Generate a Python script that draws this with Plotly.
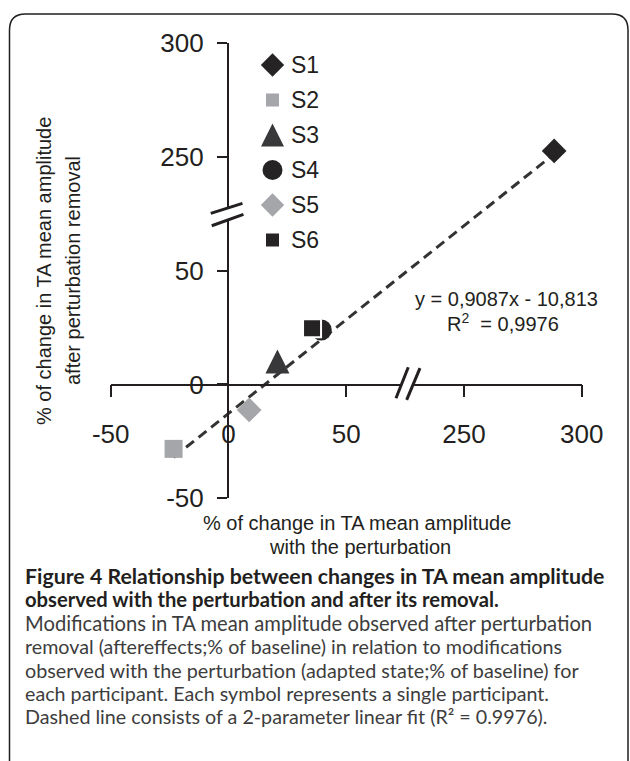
import plotly.graph_objects as go

# ---------------- data ----------------
participants = ["S1", "S2", "S3", "S4", "S5", "S6"]
change_with_perturbation = [288.3, -23.3, 20.8, 39.4, 8.8, 35.5]   # x, % of baseline
change_after_removal = [252.5, -28.3, 10.0, 23.9, -11.2, 24.6]     # y, % of baseline
fit_slope = 0.9087
fit_intercept = -10.813
fit_r2 = 0.9976
tick_values = [-50, 0, 50, 250, 300]
tick_labels = ["-50", "0", "50", "250", "300"]

# ---------------- helpers ----------------
W, H = 630, 761
FONT = "Liberation Sans, Arial, sans-serif"
CAP_FONT = "Lato, Open Sans, sans-serif"
INK = "#231f20"


def brk(v):
    """broken axis: the 50..250 gap is squeezed to one tick interval"""
    return v - 150 if v > 150 else v


symbols = {"S1": "diamond", "S2": "square", "S3": "arrow-down", "S4": "circle",
           "S5": "diamond", "S6": "square"}
colors = {"S1": "#262324", "S2": "#a5a6a9", "S3": "#38383a", "S4": "#262324",
          "S5": "#a5a6a9", "S6": "#262324"}
plot_sizes = {"S1": 19, "S2": 18, "S3": 24, "S4": 21, "S5": 19, "S6": 18}
legend_sizes = {"S1": 18, "S2": 13, "S3": 23, "S4": 20, "S5": 18, "S6": 13}


def marker_style(name, size, outline=0):
    m = dict(symbol=symbols[name], size=size, color=colors[name],
             line=dict(width=outline, color="white"))
    if symbols[name] == "arrow-down":
        m.update(angle=180, standoff=size / 2)
    return m


fig = go.Figure()

# fitted line (drawn in broken-axis display coordinates)
x_fit = [min(change_with_perturbation), max(change_with_perturbation)]
y_fit = [fit_slope * v + fit_intercept for v in x_fit]
fig.add_trace(go.Scatter(
    x=[brk(v) for v in x_fit], y=[brk(v) for v in y_fit], mode="lines",
    line=dict(color="#333333", width=3, dash="10px,6px"),
    xaxis="x", yaxis="y", showlegend=False, hoverinfo="skip"))

# participants
for name, xv, yv in zip(participants, change_with_perturbation, change_after_removal):
    fig.add_trace(go.Scatter(
        x=[brk(xv)], y=[brk(yv)], mode="markers", name=name,
        marker=marker_style(name, plot_sizes[name], 2 if name == "S6" else 0),
        xaxis="x", yaxis="y", showlegend=False, cliponaxis=False))

# custom legend (pixel subplot)
leg_x, leg_y0, leg_dy = 272.5, 65, 35
for i, name in enumerate(participants):
    fig.add_trace(go.Scatter(
        x=[leg_x], y=[leg_y0 + i * leg_dy], mode="markers",
        marker=marker_style(name, legend_sizes[name]),
        xaxis="x2", yaxis="y2", showlegend=False, hoverinfo="skip", cliponaxis=False))

annotations = []
for i, name in enumerate(participants):
    annotations.append(dict(x=289, y=leg_y0 + i * leg_dy, xref="x2", yref="y2",
                            text=name, showarrow=False, xanchor="left", yanchor="middle",
                            font=dict(family=FONT, size=23, color=INK)))

# axis titles and fit equation
annotations += [
    dict(x=357, y=523, text="% of change in TA mean amplitude"),
    dict(x=360, y=547, text="with the perturbation"),
    dict(x=44, y=271, text="% of change in TA mean amplitude", textangle=-90),
    dict(x=73, y=271, text="after perturbation removal", textangle=-90),
    dict(x=506, y=299, text=f"y = {fit_slope:.4f}x - {abs(fit_intercept):.3f}".replace(".", ",")),
    dict(x=503, y=322, text="R<sup>2</sup>\u00a0 = " + f"{fit_r2:.4f}".replace(".", ",")),
]
for a in annotations[-6:]:
    a.update(xref="x2", yref="y2", showarrow=False, xanchor="center", yanchor="middle",
             font=dict(family=FONT, size=20, color=INK))

# caption
caption = [
    ("<b>Figure 4 Relationship between changes in TA mean amplitude</b>", INK, 21.3),
    ("<b>observed with the perturbation and after its removal.</b>", INK, 20.2),
    ("Modifications in TA mean amplitude observed after perturbation", "#3d3d3d", 20.2),
    ("removal (aftereffects;% of baseline) in relation to modifications", "#3d3d3d", 19.7),
    ("observed with the perturbation (adapted state;% of baseline) for", "#3d3d3d", 19.8),
    ("each participant. Each symbol represents a single participant.", "#3d3d3d", 19.7),
    ("Dashed line consists of a 2-parameter linear fit (R\u00b2 = 0.9976).", "#3d3d3d", 19.7),
]
for i, (txt, col, sz) in enumerate(caption):
    annotations.append(dict(x=23, y=576 + i * 23.4, xref="x2", yref="y2", text=txt,
                            showarrow=False, xanchor="left", yanchor="middle",
                            font=dict(family=CAP_FONT, size=sz, color=col)))

# shapes: frame and axis break marks
shapes = [
    dict(type="path", xref="x2", yref="y2",
         path="M 9.5 775 L 9.5 30 Q 9.5 14 25.5 14 L 612 14 Q 628 14 628 30 L 628 775",
         line=dict(color=INK, width=1.5), layer="above"),
]


def pix_line(xa, ya, x0, y0, x1, y1, color=INK, width=3):
    return dict(type="line", xref="x", yref="y", xsizemode="pixel", ysizemode="pixel",
                xanchor=xa, yanchor=ya, x0=x0, y0=y0, x1=x1, y1=y1,
                line=dict(color=color, width=width), layer="above")


# y-axis break (between 50 and 250)
shapes += [
    pix_line(0, 75, 0, -6, 0, 6, color="white", width=4),
    pix_line(0, 75, -17.7, 0.2, 14, 10.2),
    pix_line(0, 75, -16.7, -12.2, 15, -0.8),
]
# x-axis break
shapes += [
    pix_line(75, 0, -3, 0, 9, 0, color="white", width=4),
    pix_line(75, 0, -9.1, -13.8, 3.2, 17.2),
    pix_line(75, 0, 1.6, -15.5, 14.9, 16.2),
]

axis_common = dict(range=[-50, 150], showgrid=False, zeroline=False, showline=True,
                   linecolor=INK, linewidth=1.5, ticks="outside", tickwidth=1.5,
                   tickcolor=INK, tickmode="array", automargin=False,
                   tickvals=[brk(v) for v in tick_values], ticktext=tick_labels,
                   tickfont=dict(family=FONT, size=26, color=INK), anchor="free")

fig.update_layout(
    template="none",
    width=W, height=H, autosize=False,
    margin=dict(l=0, r=0, t=0, b=0, pad=0, autoexpand=False),
    paper_bgcolor="white", plot_bgcolor="rgba(0,0,0,0)",
    xaxis=dict(axis_common, domain=[110.7 / W, 581.7 / W], position=1 - 384.5 / H,
               ticklen=12, ticklabelstandoff=15),
    yaxis=dict(axis_common, domain=[1 - 498.3 / H, 1 - 42.7 / H], position=227.7 / W,
               ticklen=10, ticklabelstandoff=8),
    xaxis2=dict(domain=[0, 1], range=[0, W], visible=False, anchor="y2", automargin=False),
    yaxis2=dict(domain=[0, 1], range=[H, 0], visible=False, anchor="x2", automargin=False),
    annotations=annotations, shapes=shapes, showlegend=False,
)

fig.write_html("out.html")
